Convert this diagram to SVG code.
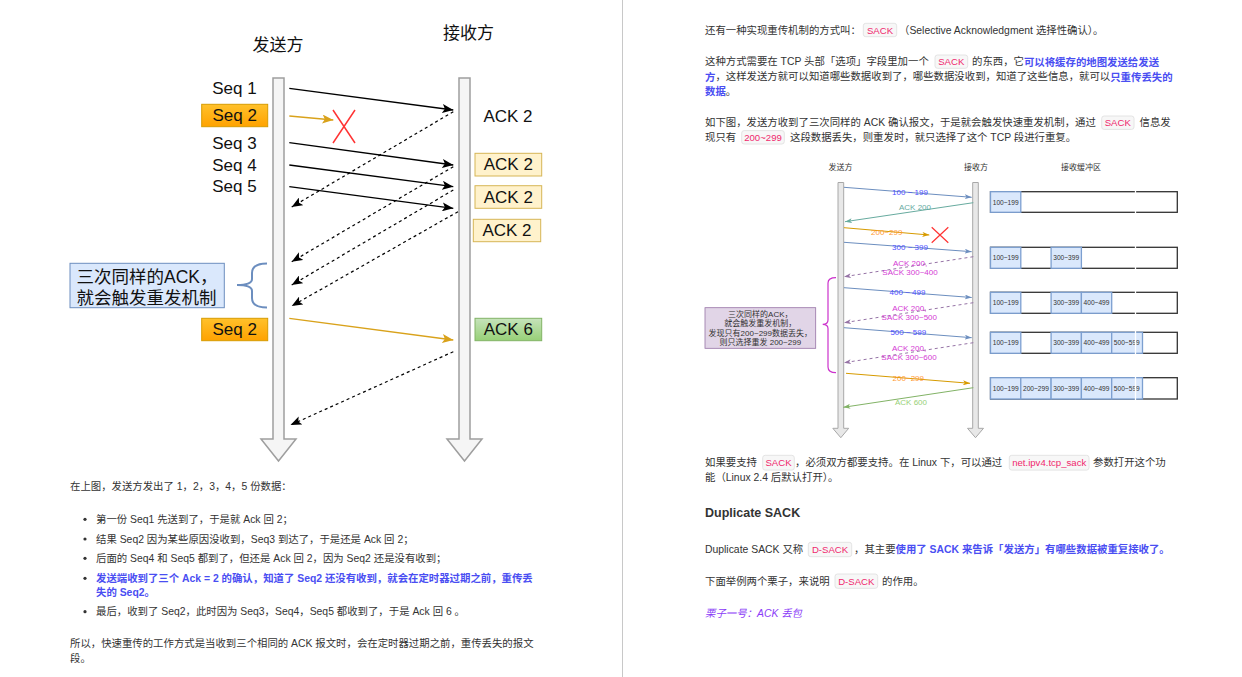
<svg xmlns="http://www.w3.org/2000/svg" width="1242" height="677" viewBox="0 0 1242 677">
<style>
text{font-family:"Liberation Sans","Noto Sans CJK SC",sans-serif;}
.p{font-size:10.4px;fill:#333;dominant-baseline:central;}
.b{fill:#4a4ef2;font-weight:bold;}
.code{font-size:9.6px;fill:#f0286e;text-anchor:middle;dominant-baseline:central;}
.cbox{fill:#f7f7f7;stroke:#e4e4e4;stroke-width:1;}
.big{font-size:17px;fill:#111;text-anchor:middle;dominant-baseline:central;}
.sm{font-size:8px;text-anchor:middle;dominant-baseline:central;}
.cell{font-size:6.6px;fill:#333;text-anchor:middle;dominant-baseline:central;}
.life{fill:#f5f5f5;stroke:#9e9e9e;stroke-width:1.5;}
.life2{fill:#e8e8e8;stroke:#a8a8a8;stroke-width:1;}
.row{fill:#fff;stroke:#333;stroke-width:1.3;}
.bc{fill:#dae8fc;stroke:#7c9fd0;stroke-width:1.3;}
.gap{stroke:#fff;stroke-width:1.3;}
</style>
<defs>
<linearGradient id="gOrange" x1="0" y1="0" x2="0" y2="1"><stop offset="0" stop-color="#ffc12b"/><stop offset="1" stop-color="#ffa200"/></linearGradient>
<linearGradient id="gGreen" x1="0" y1="0" x2="0" y2="1"><stop offset="0" stop-color="#c6e3bb"/><stop offset="1" stop-color="#97d077"/></linearGradient>
<marker id="aBlack" viewBox="0 0 11 9" markerWidth="11" markerHeight="9" refX="11" refY="4.5" orient="auto" markerUnits="userSpaceOnUse"><path d="M0,0 L11,4.5 L0,9 L2.5,4.5 Z" fill="#000"/></marker>
<marker id="aGold" viewBox="0 0 11 9" markerWidth="11" markerHeight="9" refX="11" refY="4.5" orient="auto" markerUnits="userSpaceOnUse"><path d="M0,0 L11,4.5 L0,9 L2.5,4.5 Z" fill="#d9a21b"/></marker>
<marker id="sBlue" viewBox="0 0 7 5" markerWidth="7" markerHeight="5" refX="7" refY="2.5" orient="auto" markerUnits="userSpaceOnUse"><path d="M0,0 L7,2.5 L0,5 L1.8,2.5 Z" fill="#6c8ebf"/></marker>
<marker id="sTeal" viewBox="0 0 7 5" markerWidth="7" markerHeight="5" refX="7" refY="2.5" orient="auto" markerUnits="userSpaceOnUse"><path d="M0,0 L7,2.5 L0,5 L1.8,2.5 Z" fill="#67ab9f"/></marker>
<marker id="sOrange" viewBox="0 0 7 5" markerWidth="7" markerHeight="5" refX="7" refY="2.5" orient="auto" markerUnits="userSpaceOnUse"><path d="M0,0 L7,2.5 L0,5 L1.8,2.5 Z" fill="#d79b00"/></marker>
<marker id="sPurple" viewBox="0 0 7 5" markerWidth="7" markerHeight="5" refX="7" refY="2.5" orient="auto" markerUnits="userSpaceOnUse"><path d="M0,0 L7,2.5 L0,5 L1.8,2.5 Z" fill="#9673a6"/></marker>
<marker id="sGreen" viewBox="0 0 7 5" markerWidth="7" markerHeight="5" refX="7" refY="2.5" orient="auto" markerUnits="userSpaceOnUse"><path d="M0,0 L7,2.5 L0,5 L1.8,2.5 Z" fill="#82b366"/></marker>
</defs>
<rect x="0" y="0" width="1242" height="677" fill="#fff"/>
<line x1="622.5" y1="0" x2="622.5" y2="677" stroke="#c8c8c8" stroke-width="1"/>

<!-- LEFT DIAGRAM -->
<g id="sender-title"><text class="big" x="278" y="45">发送方</text></g>
<g id="receiver-title"><text class="big" x="468.5" y="33.5">接收方</text></g>
<g id="sender-line"><path class="life" d="M273,78 H284 V439 H296 L278.5,461 L261,439 H273 Z"/></g>
<g id="receiver-line"><path class="life" d="M459,78 H470 V439 H482 L464.5,461 L447,439 H459 Z"/></g>
<g id="seq1"><text class="big" x="234.5" y="88.3">Seq 1</text></g>
<g id="seq2"><rect x="201.7" y="104.3" width="66" height="22.4" fill="url(#gOrange)" stroke="#d79b00"/><text class="big" x="234.7" y="115.5">Seq 2</text></g>
<g id="seq3"><text class="big" x="234.5" y="143.3">Seq 3</text></g>
<g id="seq4"><text class="big" x="234.5" y="165">Seq 4</text></g>
<g id="seq5"><text class="big" x="234.5" y="186.7">Seq 5</text></g>
<g id="ack2-plain"><text class="big" x="508" y="116">ACK 2</text></g>
<g id="ack2-a"><rect x="475" y="153.3" width="66.7" height="22.7" fill="#fff2cc" stroke="#d6b656"/><text class="big" x="508.3" y="164.7">ACK 2</text></g>
<g id="ack2-b"><rect x="475" y="185.7" width="66.7" height="22.6" fill="#fff2cc" stroke="#d6b656"/><text class="big" x="508.3" y="197">ACK 2</text></g>
<g id="ack2-c"><rect x="473.3" y="219.3" width="67.4" height="22.4" fill="#fff2cc" stroke="#d6b656"/><text class="big" x="507" y="230.5">ACK 2</text></g>
<g id="seq2-retry"><rect x="201.7" y="318.3" width="66" height="22.4" fill="url(#gOrange)" stroke="#d79b00"/><text class="big" x="234.7" y="329.5">Seq 2</text></g>
<g id="ack6"><rect x="475" y="318.3" width="66.7" height="22.4" fill="url(#gGreen)" stroke="#82b366"/><text class="big" x="508.3" y="329.5">ACK 6</text></g>
<g id="note-left"><rect x="70" y="263.3" width="154.3" height="44.4" fill="#dae8fc" stroke="#6c8ebf"/><text class="big" x="76.5" y="276.7" style="text-anchor:start;font-size:17.5px">三次同样的ACK，</text><text class="big" x="76.5" y="297.7" style="text-anchor:start;font-size:17.5px">就会触发重发机制</text></g>
<g id="brace-left"><path d="M267,263.5 Q252,263.5 252,273 V279 Q252,285 237,285 Q252,285 252,291 V298 Q252,307.5 267,307.5" fill="none" stroke="#6c8ebf" stroke-width="2"/></g>
<g id="lost-x"><path d="M333,110 L355,143 M355,110 L333,143" stroke="#f33" stroke-width="1.5" fill="none"/></g>

<g id="connectors-left" fill="none">
<line x1="289.3" y1="88.3" x2="453.3" y2="110" stroke="#000" stroke-width="1.3" marker-end="url(#aBlack)"/>
<line x1="289.3" y1="116" x2="333.3" y2="120" stroke="#d9a21b" stroke-width="1.3" marker-end="url(#aGold)"/>
<line x1="289.3" y1="142.7" x2="453.3" y2="165" stroke="#000" stroke-width="1.3" marker-end="url(#aBlack)"/>
<line x1="289.3" y1="165" x2="453.3" y2="186.7" stroke="#000" stroke-width="1.3" marker-end="url(#aBlack)"/>
<line x1="289.3" y1="186.7" x2="453.3" y2="208.3" stroke="#000" stroke-width="1.3" marker-end="url(#aBlack)"/>
<line x1="453.3" y1="111.7" x2="291.7" y2="207" stroke="#000" stroke-width="1.2" stroke-dasharray="3,3" marker-end="url(#aBlack)"/>
<line x1="453.3" y1="166.7" x2="291.7" y2="261.7" stroke="#000" stroke-width="1.2" stroke-dasharray="3,3" marker-end="url(#aBlack)"/>
<line x1="453.3" y1="190" x2="291.7" y2="285" stroke="#000" stroke-width="1.2" stroke-dasharray="3,3" marker-end="url(#aBlack)"/>
<line x1="458" y1="211.7" x2="291.7" y2="306" stroke="#000" stroke-width="1.2" stroke-dasharray="3,3" marker-end="url(#aBlack)"/>
<line x1="289.3" y1="318.3" x2="453.3" y2="340" stroke="#d9a21b" stroke-width="1.3" marker-end="url(#aGold)"/>
<line x1="453.3" y1="351.7" x2="290.5" y2="425" stroke="#000" stroke-width="1.2" stroke-dasharray="3,3" marker-end="url(#aBlack)"/>
</g>

<!-- LEFT PAGE TEXT -->
<g id="left-text">
<text class="p" x="70" y="486">在上图，发送方发出了 1，2，3，4，5 份数据：</text>
<circle cx="85" cy="519.3" r="1.6" fill="#333"/>
<text class="p" x="96" y="519.3">第一份 Seq1 先送到了，于是就 Ack 回 2；</text>
<circle cx="85" cy="539" r="1.6" fill="#333"/>
<text class="p" x="96" y="539">结果 Seq2 因为某些原因没收到，Seq3 到达了，于是还是 Ack 回 2；</text>
<circle cx="85" cy="558.3" r="1.6" fill="#333"/>
<text class="p" x="96" y="558.3">后面的 Seq4 和 Seq5 都到了，但还是 Ack 回 2，因为 Seq2 还是没有收到；</text>
<circle cx="85" cy="578.3" r="1.6" fill="#333"/>
<text class="p b" x="96" y="578.3">发送端收到了三个 Ack = 2 的确认，知道了 Seq2 还没有收到，就会在定时器过期之前，重传丢</text>
<text class="p b" x="96" y="592.3">失的 Seq2。</text>
<circle cx="85" cy="611.7" r="1.6" fill="#333"/>
<text class="p" x="96" y="611.7">最后，收到了 Seq2，此时因为 Seq3，Seq4，Seq5 都收到了，于是 Ack 回 6 。</text>
<text class="p" x="70" y="643.3">所以，快速重传的工作方式是当收到三个相同的 ACK 报文时，会在定时器过期之前，重传丢失的报文</text>
<text class="p" x="70" y="658.3">段。</text>
</g>

<!-- RIGHT PAGE TEXT TOP -->
<g id="right-text-top">
<text class="p" x="705" y="30">还有一种实现重传机制的方式叫：</text>
<rect class="cbox" x="863.3" y="23.3" width="33.4" height="13.4" rx="2.5"/><text class="code" x="880" y="30">SACK</text>
<text class="p" x="899" y="30">（Selective Acknowledgment 选择性确认）。</text>

<text class="p" x="705" y="61.7">这种方式需要在 TCP 头部「选项」字段里加一个</text>
<rect class="cbox" x="935" y="55" width="32.7" height="13.3" rx="2.5"/><text class="code" x="951.3" y="61.7">SACK</text>
<text class="p" x="972" y="61.7">的东西，它<tspan class="b">可以将缓存的地图发送给发送</tspan></text>
<text class="p" x="705" y="76.7"><tspan class="b">方</tspan>，这样发送方就可以知道哪些数据收到了，哪些数据没收到，知道了这些信息，就可以<tspan class="b">只重传丢失的</tspan></text>
<text class="p" x="705" y="91"><tspan class="b">数据</tspan>。</text>

<text class="p" x="705" y="122.7">如下图，发送方收到了三次同样的 ACK 确认报文，于是就会触发快速重发机制，通过</text>
<rect class="cbox" x="1101.7" y="116" width="32.3" height="13.4" rx="2.5"/><text class="code" x="1117.8" y="122.7">SACK</text>
<text class="p" x="1139.5" y="122.7">信息发</text>
<text class="p" x="705" y="137.3">现只有</text>
<rect class="cbox" x="741.7" y="130.6" width="42.6" height="13.4" rx="2.5"/><text class="code" x="763" y="137.3">200~299</text>
<text class="p" x="790" y="137.3">这段数据丢失，则重发时，就只选择了这个 TCP 段进行重复。</text>
</g>

<!-- RIGHT DIAGRAM -->
<g id="r-sender-title"><text class="sm" x="840.5" y="167.3" fill="#333">发送方</text></g>
<g id="r-receiver-title"><text class="sm" x="976" y="167.3" fill="#333">接收方</text></g>
<g id="r-buffer-title"><text class="sm" x="1081" y="167.3" fill="#333">接收缓冲区</text></g>
<g id="r-sender-line"><path class="life2" d="M838,182.5 H843.7 V428.3 H848.7 L840.8,437.7 L832.8,428.3 H838 Z"/></g>
<g id="r-receiver-line"><path class="life2" d="M972.7,182.5 H978.3 V428.3 H983.5 L975.5,437.7 L967.5,428.3 H972.7 Z"/></g>
<g id="r-lost-x"><path d="M931.7,227.3 L948.3,242.7 M948.3,227.3 L931.7,242.7" stroke="#f33" stroke-width="1.2" fill="none"/></g>
<g id="r-note"><rect x="705" y="307.7" width="110.7" height="40.6" fill="#e1d5e7" stroke="#9673a6" stroke-width="0.8"/>
<text class="sm" x="760.3" y="314.3" fill="#333">三次同样的ACK，</text>
<text class="sm" x="760.3" y="323.5" fill="#333">就会触发重发机制，</text>
<text class="sm" x="760.3" y="333.3" fill="#333">发现只有200~299数据丢失，</text>
<text class="sm" x="760.3" y="342.7" fill="#333">则只选择重发 200~299</text></g>
<g id="r-brace"><path d="M836,277.7 Q828,277.7 828,283 V320 Q828,324.3 822.7,324.3 Q828,324.3 828,328.6 V367 Q828,372.7 836,372.7" fill="none" stroke="#cc33cc" stroke-width="1.2"/></g>

<g id="buffer-row1">
<rect class="row" x="990.5" y="191.7" width="186.8" height="20.6"/>
<rect class="bc" x="990.5" y="191.7" width="30.3" height="20.6"/><text class="cell" x="1005.7" y="202">100~199</text>
<line class="gap" x1="1135.5" y1="190.5" x2="1135.5" y2="213.5"/>
</g>
<g id="buffer-row2">
<rect class="row" x="990.5" y="247.3" width="186.8" height="21"/>
<rect class="bc" x="990.5" y="247.3" width="30.3" height="21"/><text class="cell" x="1005.7" y="257.8">100~199</text>
<rect class="bc" x="1051.1" y="247.3" width="30.3" height="21"/><text class="cell" x="1066.2" y="257.8">300~399</text>
<line class="gap" x1="1135.5" y1="246" x2="1135.5" y2="269.5"/>
</g>
<g id="buffer-row3">
<rect class="row" x="990.5" y="292.3" width="186.8" height="21"/>
<rect class="bc" x="990.5" y="292.3" width="30.3" height="21"/><text class="cell" x="1005.7" y="302.8">100~199</text>
<rect class="bc" x="1051.1" y="292.3" width="30.3" height="21"/><text class="cell" x="1066.2" y="302.8">300~399</text>
<rect class="bc" x="1081.4" y="292.3" width="30.3" height="21"/><text class="cell" x="1096.5" y="302.8">400~499</text>
<line class="gap" x1="1135.5" y1="291" x2="1135.5" y2="314.5"/>
</g>
<g id="buffer-row4">
<rect class="row" x="990.5" y="332.3" width="186.8" height="21"/>
<rect class="bc" x="990.5" y="332.3" width="30.3" height="21"/><text class="cell" x="1005.7" y="342.8">100~199</text>
<rect class="bc" x="1051.1" y="332.3" width="30.3" height="21"/><text class="cell" x="1066.2" y="342.8">300~399</text>
<rect class="bc" x="1081.4" y="332.3" width="30.3" height="21"/><text class="cell" x="1096.5" y="342.8">400~499</text>
<rect class="bc" x="1111.7" y="332.3" width="30.8" height="21"/><text class="cell" x="1126.8" y="342.8">500~599</text>
<line class="gap" x1="1135.5" y1="331" x2="1135.5" y2="354.5"/>
</g>
<g id="buffer-row5">
<rect class="row" x="990.5" y="377.7" width="186.8" height="21.3"/>
<rect class="bc" x="990.5" y="377.7" width="30.3" height="21.3"/><text class="cell" x="1005.7" y="388.3">100~199</text>
<rect class="bc" x="1020.8" y="377.7" width="30.3" height="21.3"/><text class="cell" x="1035.9" y="388.3">200~299</text>
<rect class="bc" x="1051.1" y="377.7" width="30.3" height="21.3"/><text class="cell" x="1066.2" y="388.3">300~399</text>
<rect class="bc" x="1081.4" y="377.7" width="30.3" height="21.3"/><text class="cell" x="1096.5" y="388.3">400~499</text>
<rect class="bc" x="1111.7" y="377.7" width="30.8" height="21.3"/><text class="cell" x="1126.8" y="388.3">500~599</text>
<line class="gap" x1="1135.5" y1="376.5" x2="1135.5" y2="400.2"/>
</g>

<g id="connectors-right" fill="none" stroke-width="1">
<line x1="844" y1="187.3" x2="971.7" y2="197.3" stroke="#6c8ebf" marker-end="url(#sBlue)"/>
<line x1="973.3" y1="202.7" x2="845" y2="221.7" stroke="#67ab9f" marker-end="url(#sTeal)"/>
<line x1="844" y1="227.7" x2="929.3" y2="235" stroke="#d79b00" marker-end="url(#sOrange)"/>
<line x1="844" y1="242.3" x2="971.7" y2="251.7" stroke="#6c8ebf" marker-end="url(#sBlue)"/>
<line x1="973.3" y1="256.7" x2="844" y2="276.7" stroke="#9673a6" stroke-dasharray="3,3" marker-end="url(#sPurple)"/>
<line x1="844" y1="287.7" x2="971.7" y2="297.5" stroke="#6c8ebf" marker-end="url(#sBlue)"/>
<line x1="973.3" y1="302.7" x2="844" y2="322.7" stroke="#9673a6" stroke-dasharray="3,3" marker-end="url(#sPurple)"/>
<line x1="844" y1="327.7" x2="971.7" y2="337.7" stroke="#6c8ebf" marker-end="url(#sBlue)"/>
<line x1="973.3" y1="342.7" x2="844" y2="362.7" stroke="#9673a6" stroke-dasharray="3,3" marker-end="url(#sPurple)"/>
<line x1="846" y1="373.3" x2="970" y2="383.3" stroke="#d79b00" marker-end="url(#sOrange)"/>
<line x1="973.3" y1="387.7" x2="843.3" y2="407.3" stroke="#82b366" marker-end="url(#sGreen)"/>
<text class="sm" x="910" y="192.3" fill="#4d4dff">100 ~ 199</text>
<text class="sm" x="915" y="207.7" fill="#67ab9f">ACK 200</text>
<text class="sm" x="886.7" y="232.3" fill="#ff9933">200~299</text>
<text class="sm" x="910" y="247.7" fill="#4d4dff">300 ~ 399</text>
<text class="sm" x="910" y="263" fill="#d43ad4">ACK 200,</text>
<text class="sm" x="910" y="272.5" fill="#d43ad4">SACK 300~400</text>
<text class="sm" x="907.5" y="292.7" fill="#4d4dff">400 ~ 499</text>
<text class="sm" x="909.3" y="308.3" fill="#d43ad4">ACK 200,</text>
<text class="sm" x="909.3" y="317.7" fill="#d43ad4">SACK 300~500</text>
<text class="sm" x="908.3" y="332.7" fill="#4d4dff">500 ~ 599</text>
<text class="sm" x="909" y="348.3" fill="#d43ad4">ACK 200,</text>
<text class="sm" x="909" y="357.7" fill="#d43ad4">SACK 300~600</text>
<text class="sm" x="908.3" y="378.7" fill="#ff9933">200~299</text>
<text class="sm" x="911" y="402.3" fill="#97d077">ACK 600</text>
</g>

<!-- RIGHT PAGE TEXT BOTTOM -->
<g id="right-text-bottom">
<text class="p" x="705" y="462.7">如果要支持</text>
<rect class="cbox" x="762.7" y="455.3" width="31.6" height="14.8" rx="2.5"/><text class="code" x="778.5" y="462.7">SACK</text>
<text class="p" x="795" y="462.7">，必须双方都要支持。在 Linux 下，可以通过</text>
<rect class="cbox" x="1009.3" y="455.3" width="79.7" height="14.8" rx="2.5"/><text class="code" x="1049.2" y="462.7">net.ipv4.tcp_sack</text>
<text class="p" x="1093" y="462.7">参数打开这个功</text>
<text class="p" x="705" y="477.7">能（Linux 2.4 后默认打开）。</text>
<text x="705" y="513.3" style="font-size:12.5px;font-weight:bold;fill:#333;dominant-baseline:central">Duplicate SACK</text>
<text class="p" x="705" y="549.3">Duplicate SACK 又称</text>
<rect class="cbox" x="808.3" y="542.3" width="43.4" height="14.4" rx="2.5"/><text class="code" x="830" y="549.5">D-SACK</text>
<text class="p" x="854" y="549.3">，其主要<tspan class="b">使用了 SACK 来告诉「发送方」有哪些数据被重复接收了。</tspan></text>
<text class="p" x="705" y="581.7">下面举例两个栗子，来说明</text>
<rect class="cbox" x="835" y="574" width="42.7" height="14.3" rx="2.5"/><text class="code" x="856.3" y="581.2">D-SACK</text>
<text class="p" x="882" y="581.7">的作用。</text>
<text class="p" x="705" y="613.3" style="font-style:italic;fill:#8b3cf7">栗子一号：ACK 丢包</text>
</g>
</svg>
